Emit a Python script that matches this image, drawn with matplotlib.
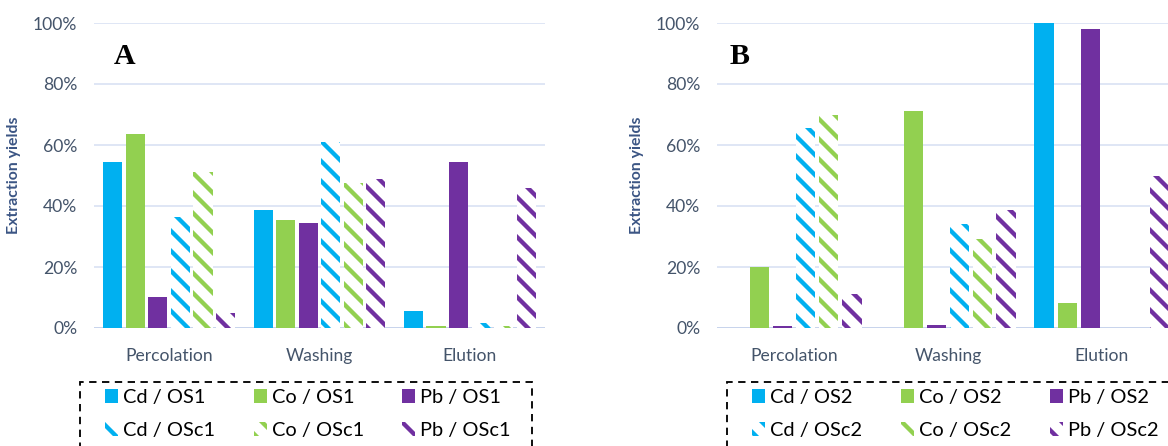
import numpy as np
import matplotlib
matplotlib.use("Agg")
import matplotlib.pyplot as plt
from matplotlib.patches import Patch, Rectangle

# extraction yields (%)
stages = ["Percolation", "Washing", "Elution"]
metals = ["Cd", "Co", "Pb"]

# panel A : OS1 (solid) and OSc1 (hatched)
cd_os1 = [54.5, 38.7, 5.7]
co_os1 = [63.6, 35.4, 0.5]
pb_os1 = [10.1, 34.4, 54.5]
cd_osc1 = [36.4, 61.0, 1.5]
co_osc1 = [51.2, 47.5, 0.5]
pb_osc1 = [4.8, 48.8, 46.0]

# panel B : OS2 (solid) and OSc2 (hatched)
cd_os2 = [0.0, 0.0, 100.0]
co_os2 = [20.0, 71.2, 8.1]
pb_os2 = [0.5, 1.0, 97.9]
cd_osc2 = [65.6, 34.0, 0.0]
co_osc2 = [69.8, 29.3, 0.0]
pb_osc2 = [11.0, 38.7, 49.8]

colors = {"Cd": "#00B0F0", "Co": "#92D050", "Pb": "#7030A0"}
text_col = "#44546A"
label_col = "#3B5584"
grid_col = "#D9E2F3"

W, H, DPI = 1168, 446, 120
plt.rcParams["font.family"] = ["Lato", "DejaVu Sans"]
plt.rcParams["hatch.linewidth"] = 2.6

fig = plt.figure(figsize=(W / DPI, H / DPI), dpi=DPI)


def px_box(left, right, top, bottom):
    return [left / W, (H - bottom) / H, (right - left) / W, (bottom - top) / H]


def draw_panel(ax, solid, hatched):
    x = np.arange(len(stages))
    pitch = 0.15
    width = 0.127
    series = [(s, m, False) for s, m in zip(solid, metals)] + \
             [(s, m, True) for s, m in zip(hatched, metals)]
    for i, (vals, m, hat) in enumerate(series):
        off = (i - 2.5) * pitch
        if hat:
            ax.bar(x + off, np.array(vals) / 100, width, color="white",
                   edgecolor=colors[m], hatch="\\\\", linewidth=0, zorder=3)
        else:
            ax.bar(x + off, np.array(vals) / 100, width, color=colors[m],
                   linewidth=0, zorder=3)
    ax.set_xlim(-0.5, 2.5)
    ax.set_ylim(0, 1.0)
    ticks = np.arange(0, 1.01, 0.2)
    ax.set_yticks(ticks)
    ax.set_yticklabels([f"{int(round(v * 100))}%" for v in ticks])
    ax.set_xticks(x)
    ax.set_xticklabels(stages)
    ax.grid(axis="y", color=grid_col, linewidth=1.0, zorder=0)
    ax.axhline(0, color="#C8D4EC", linewidth=1.2, zorder=2)
    for sp in ax.spines.values():
        sp.set_visible(False)
    ax.tick_params(length=0, colors=text_col, labelsize=10.5)
    ax.tick_params(axis="x", pad=12)
    ax.tick_params(axis="y", pad=10)
    ax.set_ylabel("Extraction yields", color=label_col, fontweight="bold",
                  fontsize=9.5, labelpad=7)


axA = fig.add_axes(px_box(94, 545, 23, 328))
axB = fig.add_axes(px_box(717, 1179, 23, 328))
draw_panel(axA, [cd_os1, co_os1, pb_os1], [cd_osc1, co_osc1, pb_osc1])
draw_panel(axB, [cd_os2, co_os2, pb_os2], [cd_osc2, co_osc2, pb_osc2])

fig.text(125 / W, 1 - 57 / H, "A", family=["Liberation Serif"], fontweight="bold",
         fontsize=18, ha="center", va="center")
fig.text(740 / W, 1 - 57 / H, "B", family=["Liberation Serif"], fontweight="bold",
         fontsize=18, ha="center", va="center")


def draw_legend(left, right, suffix_s, suffix_h, anchor_x):
    box = Rectangle((left / W, -0.2), (right - left) / W, 0.2 + (H - 382) / H,
                    transform=fig.transFigure, fill=False, edgecolor="black",
                    linewidth=1.1, linestyle=(0, (4, 3)), clip_on=False)
    fig.patches.append(box)
    handles = []
    for m in metals:
        handles.append(Patch(facecolor=colors[m], linewidth=0, label=f"{m} / {suffix_s}"))
        handles.append(Patch(facecolor="white", edgecolor=colors[m], hatch="\\\\",
                             linewidth=0, label=f"{m} / {suffix_h}"))
    fig.legend(handles=handles, ncol=3, loc="upper left",
               bbox_to_anchor=(anchor_x / W, 1 - 389 / H), frameon=False,
               fontsize=12, handlelength=0.65, handleheight=0.65,
               handletextpad=0.25, columnspacing=1.93, labelspacing=0.8,
               borderpad=0, borderaxespad=0)


draw_legend(80, 532, "OS1", "OSc1", 105)
draw_legend(727, 1300, "OS2", "OSc2", 752)

fig.savefig("out.png", dpi=DPI)
